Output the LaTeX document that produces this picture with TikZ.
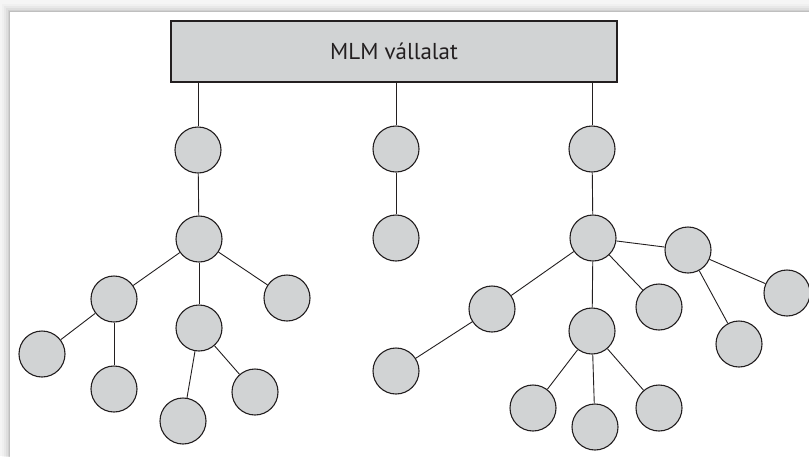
\documentclass[tikz,border=0pt]{standalone}
\usepackage{fontspec}
\setmainfont{PT Sans}
\usetikzlibrary{backgrounds}
\definecolor{nodefill}{HTML}{D1D3D4}
\definecolor{ink}{HTML}{231F20}
\tikzset{
  member/.style={circle, draw=ink, fill=nodefill, line width=1.1pt, minimum size=46pt, inner sep=0pt},
  company/.style={rectangle, draw=ink, fill=nodefill, line width=1.1pt, minimum width=446pt, minimum height=61pt, inner sep=0pt, text=ink, font=\fontsize{23}{27}\selectfont},
  link/.style={draw=ink, line width=0.9pt},
}
\begin{document}
\begin{tikzpicture}[x=1pt, y=-1pt]
\useasboundingbox (0,0) rectangle (809,456);

% company box
\node[company] (mlm) at (394,51.5) {MLM v\'allalat};

% left branch
\node[member] (l1) at (198,150) {};
\node[member] (l2) at (199,239) {};
\node[member] (la) at (114,299) {};
\node[member] (lb) at (199,328) {};
\node[member] (lc) at (287,298) {};
\node[member] (laa) at (42,354) {};
\node[member] (lab) at (114,389) {};
\node[member] (lba) at (183,421) {};
\node[member] (lbb) at (255,392) {};

% middle branch
\node[member] (m1) at (396,149) {};
\node[member] (m2) at (396,238) {};

% right branch
\node[member] (r1) at (592,149) {};
\node[member] (r2) at (593,238) {};
\node[member] (ra) at (492,309) {};
\node[member] (raa) at (396,371) {};
\node[member] (rb) at (592,331) {};
\node[member] (rba) at (533,408) {};
\node[member] (rbb) at (595,427) {};
\node[member] (rbc) at (659,408) {};
\node[member] (rc) at (659,307) {};
\node[member] (rd) at (688,250) {};
\node[member] (rda) at (739,344) {};
\node[member] (rdb) at (787,293) {};

\coordinate (tl) at (l1 |- mlm.south);
\coordinate (tm) at (m1 |- mlm.south);
\coordinate (tr) at (r1 |- mlm.south);

\begin{scope}[on background layer]
  % page with a soft shadow along its top and left edges
  \fill[black!4] (0,0) rectangle (809,456);
  \foreach \d/\o in {8/0.02,6/0.03,4/0.04,2/0.06,1/0.08}
    \fill[black, opacity=\o] (10-\d,12-\d) rectangle (820,470);
  \fill[white] (10,12) rectangle (820,470);

  % connectors
  \draw[link] (tl) -- (l1);
  \draw[link] (tm) -- (m1);
  \draw[link] (tr) -- (r1);
  \draw[link] (l1) -- (l2);
  \draw[link] (l2) -- (la);
  \draw[link] (l2) -- (lb);
  \draw[link] (l2) -- (lc);
  \draw[link] (la) -- (laa);
  \draw[link] (la) -- (lab);
  \draw[link] (lb) -- (lba);
  \draw[link] (lb) -- (lbb);
  \draw[link] (m1) -- (m2);
  \draw[link] (r1) -- (r2);
  \draw[link] (r2) -- (ra);
  \draw[link] (r2) -- (rb);
  \draw[link] (r2) -- (rc);
  \draw[link] (r2) -- (rd);
  \draw[link] (ra) -- (raa);
  \draw[link] (rb) -- (rba);
  \draw[link] (rb) -- (rbb);
  \draw[link] (rb) -- (rbc);
  \draw[link] (rd) -- (rda);
  \draw[link] (rd) -- (rdb);
\end{scope}
\end{tikzpicture}
\end{document}
